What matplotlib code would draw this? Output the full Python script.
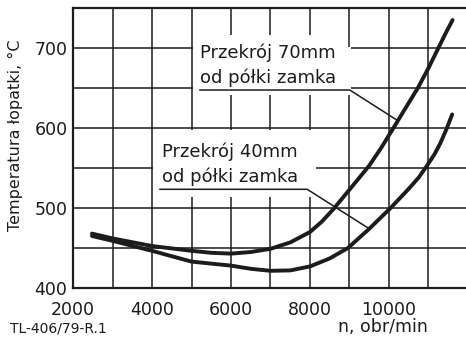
import matplotlib.pyplot as plt
from matplotlib.patches import Polygon
from matplotlib.ticker import MultipleLocator

plt.rcParams['font.family'] = 'DejaVu Sans'

ink = '#1c1c1c'

# blade temperature vs rotor speed, section 70 mm from the root platform
n_70 = [2480, 3000, 4000, 5000, 5500, 6000, 6500, 7000, 7500, 8000, 8300, 8600, 9000, 9500,
        9800, 10100, 10420, 10730, 11000, 11240, 11430, 11610]
t_70 = [468, 462, 452.5, 446.5, 444, 443, 445, 449, 457, 470, 483, 499, 523, 553,
        575, 599, 625, 650, 675, 699, 718, 735]

# section 40 mm from the root platform
n_40 = [2480, 3000, 4000, 5000, 6000, 6500, 7000, 7500, 8000, 8500, 8960, 9500, 10040,
        10500, 10750, 10950, 11150, 11300, 11450, 11600]
t_40 = [465, 459, 446.5, 433, 428, 424, 421.5, 422, 427, 437, 450, 474, 500,
        524, 538, 552, 567, 581, 598, 617]

label_70 = ['Przekrój 70mm', 'od półki zamka']
label_40 = ['Przekrój 40mm', 'od półki zamka']

x_ticks = [2000, 4000, 6000, 8000, 10000]
y_ticks = [400, 500, 600, 700]

fig = plt.figure(figsize=(4.66, 3.4), dpi=100)
ax = fig.add_axes([0.1567, 0.1529, 0.8433, 0.8235])

ax.set_xlim(2000, 11950)
ax.set_ylim(400, 750)
ax.set_xticks(x_ticks)
ax.set_yticks(y_ticks)
ax.xaxis.set_minor_locator(MultipleLocator(1000))
ax.yaxis.set_minor_locator(MultipleLocator(50))
ax.set_axisbelow(True)
ax.grid(which='both', color=ink, linewidth=1.1)
ax.tick_params(which='both', length=0, labelsize=12.5, colors=ink)
ax.tick_params(axis='x', pad=9)
ax.tick_params(axis='y', pad=4)

for side in ['left', 'bottom', 'top']:
    ax.spines[side].set_linewidth(1.6)
    ax.spines[side].set_color(ink)
ax.spines['right'].set_visible(False)

# white areas behind the two captions
ax.add_patch(Polygon([(5030, 641), (9030, 641), (9030, 701), (8970, 701), (8970, 716), (5030, 716)],
                     closed=True, facecolor='white', edgecolor='none', zorder=1))
ax.add_patch(Polygon([(4030, 514), (8150, 514), (8150, 598), (4030, 598)],
                     closed=True, facecolor='white', edgecolor='none', zorder=1))

ax.plot(n_70, t_70, color=ink, linewidth=2.8, solid_capstyle='round', solid_joinstyle='round', zorder=3)
ax.plot(n_40, t_40, color=ink, linewidth=2.8, solid_capstyle='round', solid_joinstyle='round', zorder=3)

# captions with their leader lines
ax.text(5213, 687.5, label_70[0], fontsize=13, color=ink, va='baseline', zorder=4)
ax.text(5213, 656, label_70[1], fontsize=13, color=ink, va='baseline', zorder=4)
ax.plot([5213, 9008, 10230], [647.5, 647.5, 609], color=ink, linewidth=1.1, zorder=2.5)

ax.text(4245, 564, label_40[0], fontsize=13, color=ink, va='baseline', zorder=4)
ax.text(4245, 533, label_40[1], fontsize=13, color=ink, va='baseline', zorder=4)
ax.plot([4200, 7930, 9471], [523.4, 523.4, 475], color=ink, linewidth=1.1, zorder=2.5)

fig.text(15 / 466, 0.6015, 'Temperatura łopatki, °C', rotation=90, ha='center', va='center',
         fontsize=11.5, color=ink)
fig.text(428 / 466, 1 - 327 / 340, 'n, obr/min', ha='right', va='center', fontsize=12.5, color=ink)
fig.text(10 / 466, 1 - 329 / 340, 'TL-406/79-R.1', ha='left', va='center', fontsize=10, color=ink)

fig.savefig('out.png', dpi=100)
